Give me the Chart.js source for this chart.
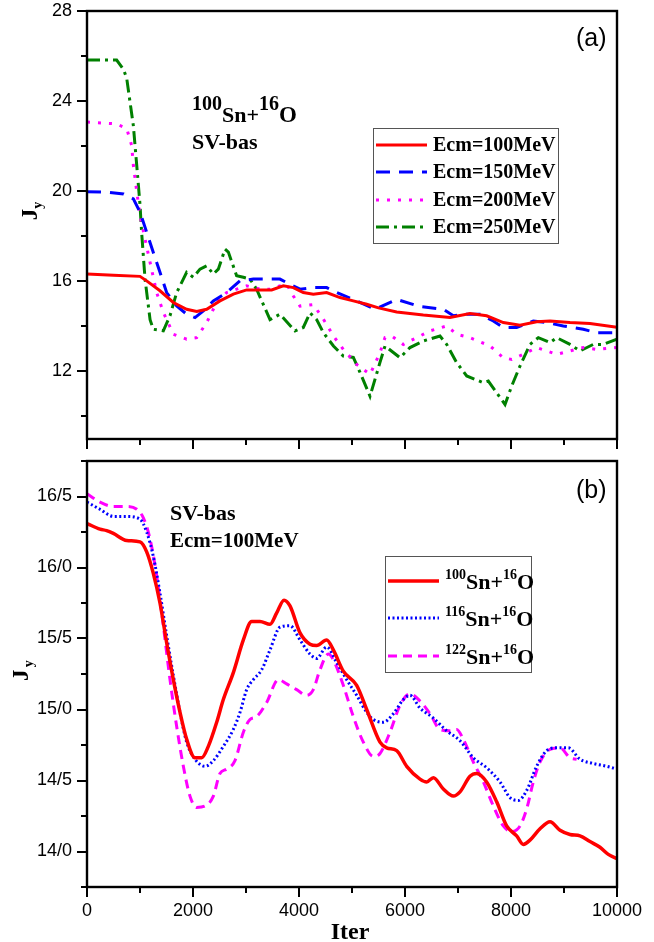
<!DOCTYPE html>
<html>
<head>
<meta charset="utf-8">
<script src="https://cdn.jsdelivr.net/npm/chart.js@4.4.1/dist/chart.umd.min.js"></script>
<style>
  body { margin: 0; background: #fff; }
  #wrap { position: relative; width: 654px; height: 942px; }
  #boxA { position: absolute; left: 0; top: 0; width: 654px; height: 452px; }
  #boxB { position: absolute; left: 0; top: 452px; width: 654px; height: 490px; }
</style>
</head>
<body>
<div id="wrap">
  <div id="boxA"><canvas id="chartA"></canvas></div>
  <div id="boxB"><canvas id="chartB"></canvas></div>
</div>
<script>
// panel (a): 100Sn+16O, SV-bas, different Ecm
var iterA100 = [0, 500, 1000, 1126, 1377, 1629, 1880, 2070, 2258, 2509, 2761, 3013, 3250, 3484, 3704, 3893, 4081, 4270, 4522, 4774, 5025, 5277, 5500, 5843, 6345, 6849, 7226, 7540, 7855, 8170, 8484, 8736, 9113, 9490, 10000];
var jyA100 = [16.32, 16.27, 16.22, 16.02, 15.58, 15.06, 14.76, 14.66, 14.76, 15.13, 15.43, 15.62, 15.62, 15.62, 15.8, 15.72, 15.5, 15.43, 15.5, 15.28, 15.13, 14.98, 14.82, 14.64, 14.5, 14.39, 14.57, 14.47, 14.17, 14.05, 14.2, 14.24, 14.17, 14.13, 13.96];

var iterA150 = [0, 400, 690, 875, 1000, 1126, 1250, 1377, 1503, 1692, 1880, 2038, 2195, 2384, 2635, 2887, 3138, 3640, 3830, 4019, 4270, 4522, 4711, 5088, 5434, 5843, 6283, 6723, 6912, 7164, 7415, 7666, 7855, 8107, 8421, 8673, 8987, 9365, 9616, 10000];
var jyA150 = [19.98, 19.95, 19.88, 19.66, 19.07, 18.18, 17.29, 16.4, 15.5, 14.91, 14.54, 14.39, 14.69, 15.13, 15.5, 16.02, 16.1, 16.1, 15.87, 15.65, 15.72, 15.72, 15.5, 15.13, 14.76, 15.2, 14.88, 14.76, 14.47, 14.54, 14.54, 14.24, 13.95, 13.95, 14.24, 14.17, 14.02, 13.87, 13.72, 13.72];

var iterA200 = [0, 560, 750, 843, 875, 940, 1000, 1095, 1190, 1315, 1440, 1629, 1880, 2070, 2258, 2447, 2635, 2823, 3013, 3264, 3453, 3640, 3768, 3893, 4019, 4270, 4460, 4650, 4836, 5088, 5340, 5528, 5623, 5748, 5968, 6220, 6472, 6786, 6975, 7226, 7604, 7855, 8013, 8233, 8484, 8673, 8862, 9113, 9365, 9616, 10000];
var jyA200 = [23.07, 22.99, 22.78, 22.03, 21.14, 19.96, 18.92, 17.88, 16.84, 15.5, 14.62, 13.65, 13.43, 13.5, 14.17, 15.06, 15.5, 15.65, 15.8, 15.65, 15.65, 15.8, 15.87, 15.35, 14.9, 14.97, 14.32, 13.57, 12.98, 12.31, 11.87, 12.83, 13.5, 13.57, 13.2, 13.5, 13.8, 14.02, 13.65, 13.5, 13.13, 12.61, 12.53, 12.76, 13.06, 12.91, 12.76, 12.91, 13.06, 12.98, 13.06];

var iterA250 = [0, 560, 690, 750, 875, 940, 1000, 1030, 1095, 1190, 1250, 1440, 1566, 1692, 1817, 1880, 2006, 2132, 2258, 2384, 2478, 2604, 2667, 2823, 2950, 3075, 3200, 3453, 3640, 3925, 4081, 4208, 4333, 4460, 4650, 4836, 5025, 5151, 5340, 5528, 5623, 5780, 5906, 6094, 6345, 6660, 6786, 6975, 7164, 7477, 7572, 7730, 7887, 8013, 8170, 8358, 8516, 8736, 8862, 9113, 9302, 9553, 9742, 10000];
var jyA250 = [25.82, 25.82, 25.4, 25.0, 22.9, 21.1, 19.4, 18.2, 16.1, 14.3, 13.87, 13.8, 14.47, 15.5, 16.1, 16.4, 16.18, 16.54, 16.69, 16.32, 16.54, 17.43, 17.3, 16.25, 16.18, 16.1, 15.65, 14.3, 14.54, 13.8, 13.95, 14.6, 14.3, 13.72, 13.13, 12.68, 12.62, 11.96, 10.9, 12.4, 13.13, 12.84, 12.61, 13.06, 13.35, 13.57, 13.2, 12.39, 11.8, 11.5, 11.57, 11.05, 10.53, 11.35, 12.24, 13.2, 13.5, 13.28, 13.5, 13.2, 12.91, 13.2, 13.2, 13.43];

var labelsA = ['Ecm=100MeV', 'Ecm=150MeV', 'Ecm=200MeV', 'Ecm=250MeV'];

// panel (b): SV-bas, Ecm=100MeV, different Sn isotopes
var iterB100 = [0, 245, 370, 497, 750, 1000, 1126, 1250, 1377, 1503, 1629, 1755, 1881, 2038, 2164, 2289, 2447, 2572, 2761, 2950, 3107, 3264, 3453, 3579, 3717, 3830, 4019, 4208, 4333, 4522, 4648, 4836, 5088, 5277, 5528, 5654, 5843, 6032, 6283, 6409, 6535, 6723, 6912, 7038, 7226, 7352, 7540, 7730, 7918, 8107, 8233, 8358, 8547, 8736, 8925, 9113, 9302, 9491, 9679, 9836, 10000];
var jyB100 = [16.31, 16.27, 16.26, 16.24, 16.19, 16.18, 16.11, 15.96, 15.75, 15.47, 15.21, 14.98, 14.79, 14.66, 14.66, 14.74, 14.91, 15.07, 15.26, 15.49, 15.62, 15.62, 15.6, 15.68, 15.77, 15.73, 15.54, 15.46, 15.45, 15.49, 15.42, 15.27, 15.17, 15.0, 14.77, 14.73, 14.71, 14.6, 14.51, 14.49, 14.52, 14.44, 14.39, 14.42, 14.53, 14.55, 14.49, 14.35, 14.18, 14.11, 14.05, 14.08, 14.16, 14.21, 14.15, 14.12, 14.11, 14.07, 14.03, 13.98, 13.95];

var iterB116 = [0, 245, 497, 750, 1000, 1126, 1250, 1377, 1503, 1629, 1755, 1881, 2038, 2227, 2384, 2572, 2761, 2887, 3013, 3138, 3296, 3453, 3642, 3830, 4019, 4208, 4333, 4522, 4711, 4900, 5088, 5277, 5400, 5591, 5780, 5969, 6094, 6283, 6535, 6786, 7038, 7290, 7540, 7792, 7981, 8138, 8296, 8484, 8673, 8862, 9081, 9302, 9553, 9805, 10000];
var jyB116 = [16.46, 16.41, 16.36, 16.36, 16.34, 16.25, 16.08, 15.82, 15.52, 15.24, 14.98, 14.77, 14.65, 14.6, 14.64, 14.74, 14.86, 14.98, 15.14, 15.21, 15.28, 15.42, 15.58, 15.59, 15.49, 15.39, 15.36, 15.44, 15.33, 15.21, 15.1, 14.98, 14.93, 14.91, 14.97, 15.07, 15.1, 15.01, 14.94, 14.85, 14.78, 14.66, 14.59, 14.49, 14.38, 14.36, 14.43, 14.6, 14.71, 14.73, 14.73, 14.65, 14.62, 14.6, 14.58];

var iterB122 = [0, 245, 497, 750, 940, 1063, 1190, 1315, 1440, 1566, 1692, 1818, 1943, 2069, 2227, 2384, 2509, 2635, 2792, 2950, 3075, 3201, 3390, 3610, 3767, 3956, 4145, 4270, 4396, 4553, 4648, 4836, 5025, 5214, 5403, 5528, 5717, 5906, 6094, 6283, 6472, 6660, 6849, 6975, 7101, 7290, 7478, 7667, 7855, 8013, 8170, 8296, 8421, 8547, 8736, 8925, 9113, 9239];
var jyB122 = [16.52, 16.46, 16.43, 16.43, 16.41, 16.35, 16.2, 15.94, 15.59, 15.21, 14.88, 14.6, 14.39, 14.31, 14.32, 14.39, 14.55, 14.58, 14.64, 14.84, 14.93, 14.95, 15.05, 15.21, 15.18, 15.14, 15.1, 15.14, 15.28, 15.39, 15.35, 15.17, 14.95, 14.77, 14.67, 14.69, 14.84, 15.03, 15.11, 15.06, 14.97, 14.86, 14.85, 14.86, 14.79, 14.63, 14.49, 14.32, 14.18, 14.14, 14.18, 14.3, 14.49, 14.63, 14.72, 14.73, 14.66, 14.65];

var massB = ['100', '116', '122'];

var xTicks = { min: 0, max: 10000, step: 1000, major: 2000 };

var SERIF = '"Liberation Serif", "Times New Roman", serif';
var SANS = '"Liberation Sans", Arial, sans-serif';

function pts(xs, ys) {
    var out = [];
    for (var i = 0; i < xs.length; i++) {
        out.push({ x: xs[i], y: ys[i] });
    }
    return out;
}

function isMult(v, step) {
    var k = v / step;
    return Math.abs(k - Math.round(k)) < 1e-6;
}

// draws pieces of text one after the other: [text, size, baseline shift]
function drawRich(ctx, x, y, parts) {
    parts.forEach(function (p) {
        ctx.font = 'bold ' + p[1] + 'px ' + SERIF;
        ctx.fillText(p[0], x, y + p[2]);
        x += ctx.measureText(p[0]).width;
    });
}

function drawJy(ctx, cx, cy) {
    ctx.save();
    ctx.translate(cx, cy);
    ctx.rotate(-Math.PI / 2);
    ctx.fillStyle = '#000';
    ctx.textBaseline = 'alphabetic';
    ctx.font = 'bold 23px ' + SERIF;
    var wJ = ctx.measureText('J').width;
    ctx.font = 'bold 14px ' + SERIF;
    var wy = ctx.measureText('y').width;
    var x0 = -(wJ + wy) / 2;
    ctx.font = 'bold 23px ' + SERIF;
    ctx.fillText('J', x0, 7);
    ctx.font = 'bold 14px ' + SERIF;
    ctx.fillText('y', x0 + wJ, 12);
    ctx.restore();
}

// frame, outward ticks (long major, short minor)
var framePlugin = {
    id: 'frame',
    afterDraw: function (chart, args, opts) {
        var ctx = chart.ctx, a = chart.chartArea;
        var xs = chart.scales.x, ys = chart.scales.y;
        ctx.save();
        ctx.strokeStyle = '#000';
        ctx.lineWidth = 2;
        ctx.beginPath();
        xs.ticks.forEach(function (t) {
            var px = Math.round(xs.getPixelForValue(t.value));
            var len = isMult(t.value, xTicks.major) ? 10 : 6;
            ctx.moveTo(px, a.bottom);
            ctx.lineTo(px, a.bottom + len);
        });
        ys.ticks.forEach(function (t) {
            if (!isMult(t.value, opts.yMinor)) return;
            var py = Math.round(ys.getPixelForValue(t.value));
            var len = isMult(t.value, opts.yMajor) ? 10 : 6;
            ctx.moveTo(a.left - len, py);
            ctx.lineTo(a.left, py);
        });
        ctx.stroke();
        ctx.lineWidth = 2.4;
        ctx.strokeRect(a.left, a.top, a.right - a.left, a.bottom - a.top);
        ctx.restore();
    }
};

function legendSample(ctx, ds, x1, x2, y) {
    ctx.save();
    ctx.strokeStyle = ds.borderColor;
    ctx.lineWidth = ds.borderWidth;
    ctx.setLineDash(ds.borderDash || []);
    ctx.beginPath();
    ctx.moveTo(x1, y);
    ctx.lineTo(x2, y);
    ctx.stroke();
    ctx.restore();
}

var notesA = {
    id: 'notesA',
    afterDraw: function (chart) {
        var ctx = chart.ctx;
        ctx.save();
        ctx.fillStyle = '#000';
        ctx.textBaseline = 'middle';
        ctx.font = '25px ' + SANS;
        ctx.fillText('(a)', 576, 39);

        ctx.textBaseline = 'alphabetic';
        drawRich(ctx, 192, 122, [['100', 20, -12], ['Sn+', 22, 0], ['16', 20, -12], ['O', 23, 0]]);
        drawRich(ctx, 192, 149, [['SV-bas', 22, 0]]);

        // legend
        ctx.strokeStyle = '#555';
        ctx.lineWidth = 1;
        ctx.strokeRect(373.5, 128.5, 185, 115);
        var rows = [145, 172, 200, 227];
        chart.data.datasets.forEach(function (ds, i) {
            legendSample(ctx, ds, 376, 427, rows[i]);
            ctx.fillStyle = '#000';
            ctx.textBaseline = 'middle';
            ctx.font = 'bold 20px ' + SERIF;
            ctx.fillText(ds.label, 433, rows[i] + 1);
        });

        drawJy(ctx, 30, 211);
        ctx.restore();
    }
};

var notesB = {
    id: 'notesB',
    afterDraw: function (chart) {
        var ctx = chart.ctx;
        ctx.save();
        ctx.fillStyle = '#000';
        ctx.textBaseline = 'middle';
        ctx.font = '25px ' + SANS;
        ctx.fillText('(b)', 576, 39);

        ctx.textBaseline = 'alphabetic';
        drawRich(ctx, 170, 68, [['SV-bas', 22, 0]]);
        drawRich(ctx, 170, 95, [['Ecm=100MeV', 21, 0]]);

        ctx.strokeStyle = '#555';
        ctx.lineWidth = 1;
        ctx.strokeRect(385.5, 104.5, 146, 116);
        var rows = [129, 166, 204];
        chart.data.datasets.forEach(function (ds, i) {
            legendSample(ctx, ds, 388, 439, rows[i]);
            ctx.fillStyle = '#000';
            ctx.textBaseline = 'alphabetic';
            drawRich(ctx, 445, rows[i] + 8, [[massB[i], 14, -10], ['Sn+', 22, 0], ['16', 14, -10], ['O', 22, 0]]);
        });

        ctx.font = 'bold 24px ' + SERIF;
        ctx.textAlign = 'center';
        ctx.fillText('Iter', 350, 487);

        drawJy(ctx, 21, 214);
        ctx.restore();
    }
};

function xScale(showLabels, height) {
    return {
        type: 'linear',
        min: xTicks.min,
        max: xTicks.max,
        afterFit: function (scale) {
            scale.height = height;
            scale.paddingLeft = 0;
            scale.paddingRight = 0;
        },
        grid: { display: true, drawOnChartArea: false, drawTicks: false },
        border: { display: false },
        ticks: {
            stepSize: xTicks.step,
            autoSkip: false,
            maxRotation: 0,
            padding: 13,
            color: '#000',
            font: { family: SANS, size: 18 },
            callback: function (v) {
                if (!showLabels) return '';
                return isMult(v, xTicks.major) ? String(v) : '';
            }
        }
    };
}

function yScale(min, max, step, major, fmt) {
    return {
        type: 'linear',
        min: min,
        max: max,
        afterFit: function (scale) {
            scale.width = 87;
            scale.paddingTop = 0;
            scale.paddingBottom = 0;
        },
        grid: { display: true, drawOnChartArea: false, drawTicks: false },
        border: { display: false },
        ticks: {
            stepSize: step,
            autoSkip: false,
            padding: 15,
            color: '#000',
            font: { family: SANS, size: 18 },
            callback: function (v) {
                return isMult(v, major) ? fmt(v) : '';
            }
        }
    };
}

function line(label, data, color, width, dash, smooth) {
    return {
        label: label,
        data: data,
        borderColor: color,
        backgroundColor: color,
        borderWidth: width,
        borderDash: dash,
        pointRadius: 0,
        fill: false,
        tension: smooth ? 0.4 : 0,
        cubicInterpolationMode: smooth ? 'monotone' : 'default'
    };
}

var baseOptions = function (pad) {
    return {
        responsive: true,
        maintainAspectRatio: false,
        animation: false,
        layout: { padding: { top: pad, right: 37, left: 0, bottom: 0 } },
        plugins: {
            legend: { display: false },
            tooltip: { enabled: false }
        }
    };
};

var optsA = baseOptions(11);
optsA.scales = {
    x: xScale(false, 13),
    y: yScale(9, 28, 2, 4, function (v) { return String(v); })
};
optsA.plugins.frame = { yMinor: 2, yMajor: 4 };

new Chart(document.getElementById('chartA').getContext('2d'), {
    type: 'line',
    data: {
        datasets: [
            line(labelsA[0], pts(iterA100, jyA100), '#ff0000', 3, [], false),
            line(labelsA[1], pts(iterA150, jyA150), '#0000ff', 3, [14, 9], false),
            line(labelsA[2], pts(iterA200, jyA200), '#ff00ff', 3, [3, 8], false),
            line(labelsA[3], pts(iterA250, jyA250), '#008000', 3, [13, 5, 3, 5], false)
        ]
    },
    options: optsA,
    plugins: [framePlugin, notesA]
});

var optsB = baseOptions(9);
optsB.scales = {
    x: xScale(true, 55),
    y: yScale(13.75, 16.75, 0.25, 0.5, function (v) { return v.toFixed(1).replace('.', '/'); })
};
optsB.plugins.frame = { yMinor: 0.25, yMajor: 0.5 };

new Chart(document.getElementById('chartB').getContext('2d'), {
    type: 'line',
    data: {
        datasets: [
            line(massB[0] + 'Sn+16O', pts(iterB100, jyB100), '#ff0000', 3.5, [], true),
            line(massB[1] + 'Sn+16O', pts(iterB116, jyB116), '#0000ff', 3, [2, 2.5], true),
            line(massB[2] + 'Sn+16O', pts(iterB122, jyB122), '#ff00ff', 3, [9, 6], true)
        ]
    },
    options: optsB,
    plugins: [framePlugin, notesB]
});
</script>
</body>
</html>
